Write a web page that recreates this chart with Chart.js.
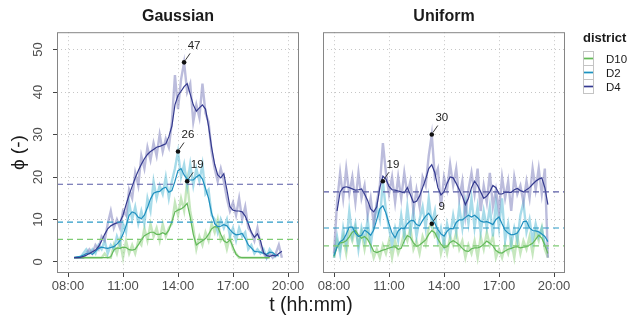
<!DOCTYPE html>
<html>
<head>
<meta charset="utf-8">
<script src="https://cdn.jsdelivr.net/npm/chart.js@4.4.1/dist/chart.umd.min.js"></script>
<style>
  body { margin: 0; background: #fff; font-family: "Liberation Sans", Arial, sans-serif; }
  #wrap { position: relative; width: 628px; height: 320px; overflow: hidden; }
  .panel { position: absolute; top: 0; height: 320px; }
  #gaussBox { left: 0; width: 310px; }
  #uniformBox { left: 310px; width: 318px; }
  #xTitle { position: absolute; left: 0; width: 622px; top: 292px; text-align: center;
            font-size: 19.5px; line-height: 24px; color: #1a1a1a; }
  #legend { position: absolute; left: 583px; top: 30px; color: #1a1a1a; }
  #legend .title { font-weight: bold; font-size: 13px; line-height: 16px; margin-bottom: 6px; }
  #legend .row { display: flex; align-items: center; height: 14px; }
  #legend .key { position: relative; width: 9px; height: 13px; border: 1px solid #c4c4c4; margin-top: -1px; }
  #legend .key span { position: absolute; left: 0; right: 0; }
  #legend .label { font-size: 11.5px; margin-left: 12px; white-space: nowrap; }
</style>
</head>
<body>
<div id="wrap">
  <div class="panel" id="gaussBox"><canvas id="gaussChart"></canvas></div>
  <div class="panel" id="uniformBox"><canvas id="uniformChart"></canvas></div>
  <div id="xTitle">t (hh:mm)</div>
  <div id="legend"><div class="title">district</div></div>
</div>
<script>
// Crowding level per district over the day, two arrival scenarios.
// Raw series are the noisy light traces, smooth series the darker ones.
const districts = ['D10', 'D2', 'D4'];
const xTickLabels = ['08:00', '11:00', '14:00', '17:00', '20:00'];
const yTicks = [0, 10, 20, 30, 40, 50];

const gaussTimes = [
  '08:20', '08:30', '08:40', '08:50',
  '09:00', '09:10', '09:20', '09:30', '09:40', '09:50',
  '10:00', '10:10', '10:20', '10:30', '10:40', '10:50',
  '11:00', '11:10', '11:20', '11:30', '11:40', '11:50',
  '12:00', '12:10', '12:20', '12:30', '12:40', '12:50',
  '13:00', '13:10', '13:20', '13:30', '13:40', '13:50',
  '14:00', '14:10', '14:20', '14:30', '14:40', '14:50',
  '15:00', '15:10', '15:20', '15:30', '15:40', '15:50',
  '16:00', '16:10', '16:20', '16:30', '16:40', '16:50',
  '17:00', '17:10', '17:20', '17:30', '17:40', '17:50',
  '18:00', '18:10', '18:20', '18:30', '18:40', '18:50',
  '19:00', '19:10', '19:20', '19:30', '19:40'
];

const gaussRawD10 = [
  1, 1, 1, 1,
  1, 1, 1, 1, 1, 1,
  2, 1, 1, 4, 2, 5,
  1, 5, 2, 4, 2, 5,
  4, 8, 5, 9, 6, 8,
  5, 9, 6, 8, 9, 14,
  11, 15, 12, 19, 12, 8,
  3, 6, 4, 7, 5, 9,
  7, 10, 5, 6, 3, 6,
  3, 2, 1, 1, 1, 1,
  1, 1, 1, 1, 1, 1,
  1, null, null, null, null
];
const gaussRawD2 = [
  1, 1, 1, 2,
  3, 2, 3, 2, 4, 3,
  5, 2, 4, 3, 6, 4,
  9, 7, 14, 10, 13, 9,
  12, 9, 15, 12, 19, 15,
  18, 16, 20, 15, 19, 22,
  26, 20, 23, 18, 23, 18,
  22, 19, 23, 16, 17, 11,
  10, 7, 10, 8, 10, 6,
  8, 5, 8, 6, 7, 3,
  4, 2, 3, 2, 3, 1,
  3, 2, 1, null, null
];
const gaussRawD4 = [
  1, 1, 1, 1,
  2, 3, 2, 4, 3, 6,
  5, 9, 12, 8, 10, 8,
  12, 11, 17, 15, 21, 18,
  25, 22, 27, 24, 28, 25,
  30, 26, 29, 27, 33, 44,
  36, 43, 47, 40, 42, 33,
  37, 34, 42, 35, 33, 26,
  22, 19, 22, 19, 15, 12,
  14, 11, 15, 10, 13, 8,
  7, 5, 8, 4, 2, 1,
  2, 1, 2, 4, 1
];

const gaussSmoothD10 = [
  1.0, 1.0, 1.0, 1.0,
  1.0, 1.0, 1.0, 1.0, 1.0, 1.0,
  1.0, 1.0, 1.2, 2.8, 3.3, 3.2,
  3.5, 3.4, 2.9, 2.8, 3.0, 4.0,
  5.2, 6.2, 6.6, 7.0, 7.0, 6.5,
  6.5, 6.9, 6.5, 7.5, 9.5, 11.8,
  12.2, 12.5, 13.0, 13.8, 10.5, 6.5,
  4.0, 4.5, 5.0, 5.5, 6.5, 7.8,
  8.3, 8.2, 6.5, 5.0, 4.5, 5.2,
  3.5, 1.8, 1.2, 1.0, 1.0, 1.0,
  1.0, 1.0, 1.0, 1.0, 1.0, 1.0,
  1.0, null, null, null, null
];
const gaussSmoothD2 = [
  1.0, 1.2, 1.3, 1.6,
  2.0, 2.1, 1.8, 2.5, 3.2, 3.5,
  3.3, 3.2, 3.4, 3.6, 4.2, 5.0,
  6.5, 8.5, 11.0, 11.8, 11.5, 10.5,
  10.2, 11.0, 12.8, 14.8, 16.2, 16.5,
  16.6, 17.3, 17.6, 16.4, 16.8, 19.0,
  21.5, 22.0, 20.5, 19.5, 19.3, 19.3,
  20.0, 20.5, 19.5, 17.3, 15.0, 11.5,
  9.0, 8.3, 8.4, 8.8, 8.5, 7.6,
  6.8, 6.4, 6.5, 6.7, 5.5, 4.0,
  3.3, 2.5, 2.4, 2.3, 2.0, 1.8,
  2.3, 2.2, 1.6, 1.4, null
];
const gaussSmoothD4 = [
  1.0, 1.0, 1.1, 1.3,
  1.6, 2.0, 2.4, 2.8, 3.6, 5.0,
  6.5, 7.8, 8.5, 8.9, 9.2, 9.4,
  11.0, 13.5, 15.8, 17.8, 19.8, 21.5,
  23.0, 24.3, 25.3, 26.0, 26.5, 27.0,
  27.2, 27.5, 27.8, 29.5, 32.0, 37.0,
  39.2, 40.2, 41.3, 42.0, 39.5, 37.0,
  35.5, 36.3, 37.0, 36.0, 32.0, 27.0,
  23.0, 20.5, 19.8, 20.8, 17.0, 13.0,
  12.2, 12.0, 12.0, 11.8, 10.8, 9.0,
  7.0, 5.8, 6.6, 5.0, 2.2, 1.5,
  1.3, 1.6, 1.4, 2.0, 2.5
];

const uniformTimes = [
  '08:00', '08:10', '08:20', '08:30', '08:40', '08:50',
  '09:00', '09:10', '09:20', '09:30', '09:40', '09:50',
  '10:00', '10:10', '10:20', '10:30', '10:40', '10:50',
  '11:00', '11:10', '11:20', '11:30', '11:40', '11:50',
  '12:00', '12:10', '12:20', '12:30', '12:40', '12:50',
  '13:00', '13:10', '13:20', '13:30', '13:40', '13:50',
  '14:00', '14:10', '14:20', '14:30', '14:40', '14:50',
  '15:00', '15:10', '15:20', '15:30', '15:40', '15:50',
  '16:00', '16:10', '16:20', '16:30', '16:40', '16:50',
  '17:00', '17:10', '17:20', '17:30', '17:40', '17:50',
  '18:00', '18:10', '18:20', '18:30', '18:40', '18:50',
  '19:00', '19:10', '19:20', '19:30', '19:40'
];

const uniformRawD10 = [
  1, 5, 3, 6, 2, 7,
  5, 8, 4, 7, 3, 7,
  4, 1, 3, 1, 4, 2,
  5, 1, 5, 2, 4, 7,
  5, 8, 3, 5, 2, 6,
  4, 8, 9, 6, 7, 2,
  5, 2, 6, 4, 7, 3,
  5, 1, 4, 2, 5, 1,
  6, 3, 7, 4, 6, 1,
  3, 1, 4, 2, 5, 1,
  6, 2, 5, 3, 6, 2,
  7, 5, 8, 3, 1
];
const uniformRawD2 = [
  1, 6, 2, 8, 4, 12,
  6, 9, 3, 8, 5, 10,
  4, 9, 13, 10, 19, 12,
  8, 4, 8, 5, 11, 6,
  13, 7, 12, 6, 10, 13,
  8, 15, 9, 12, 5, 8,
  4, 9, 6, 11, 7, 13,
  8, 14, 9, 15, 8, 13,
  7, 12, 8, 13, 6, 14,
  8, 15, 5, 9, 4, 8,
  5, 11, 14, 7, 10, 5,
  9, 6, 8, 4, 3
];
const uniformRawD4 = [
  2, 14, 21, 15, 22, 16,
  20, 14, 21, 15, 18, 11,
  15, 9, 14, 18, 28, 21,
  16, 20, 14, 20, 15, 21,
  16, 19, 12, 17, 13, 20,
  18, 25, 30, 20, 22, 13,
  20, 17, 23, 18, 22, 15,
  19, 11, 17, 21, 16, 22,
  12, 18, 14, 21, 13, 17,
  12, 20, 15, 19, 12, 20,
  16, 18, 14, 19, 15, 22,
  17, 22, 16, 22, 1
];

const uniformSmoothD10 = [
  1.3, 3.5, 4.5, 4.6, 5.0, 5.9,
  7.0, 7.4, 6.4, 5.6, 6.0, 5.3,
  4.0, 2.5, 2.2, 2.5, 2.8, 3.0,
  3.3, 3.5, 3.6, 3.0, 3.2, 5.0,
  6.2, 5.8, 4.5, 3.7, 4.0, 4.6,
  5.2, 6.5, 7.4, 6.9, 5.4, 4.2,
  3.4, 3.6, 4.6, 5.0, 4.6, 4.0,
  3.2, 2.6, 2.5, 3.1, 3.3, 3.3,
  3.6, 4.2, 4.9, 4.4, 3.8, 2.7,
  2.2, 2.1, 2.6, 3.0, 3.2, 3.5,
  3.6, 3.3, 3.5, 3.6, 4.0, 4.4,
  5.3, 6.3, 5.6, 4.0, 2.0
];
const uniformSmoothD2 = [
  1.5, 3.5, 4.8, 5.2, 6.5, 8.2,
  8.2, 6.8, 6.0, 6.3, 7.5, 7.0,
  6.3, 7.5, 10.0, 12.5, 13.2, 11.5,
  9.0, 6.8, 5.7, 7.3, 8.0, 7.8,
  9.0, 9.7, 9.8, 8.8, 8.5, 9.8,
  10.8, 11.5, 10.3, 9.1, 7.6, 6.6,
  6.1, 7.2, 7.9, 7.8, 9.3, 9.9,
  9.9, 10.5, 11.0, 10.6, 11.0, 10.4,
  9.6, 9.4, 9.5, 9.2, 8.8, 10.0,
  10.6, 9.0, 7.5, 6.8, 6.4, 6.5,
  6.8, 8.0, 9.5, 9.6, 8.0, 7.4,
  7.3, 7.1, 6.6, 6.0, 4.8
];
const uniformSmoothD4 = [
  null, 12.0, 16.5, 17.5, 17.7, 17.5,
  17.2, 16.9, 17.0, 17.2, 16.0, 14.5,
  12.5, 11.8, 13.0, 17.5, 20.2, 19.5,
  17.8, 17.0, 16.9, 16.7, 16.5, 16.3,
  17.5, 15.8, 14.0, 14.3, 15.5, 17.5,
  19.5, 22.0, 22.9, 21.0, 17.5, 15.8,
  16.5, 18.5, 20.0, 19.8, 18.5, 17.0,
  15.5, 13.5, 15.0, 17.5, 19.0, 18.0,
  16.5, 15.0, 15.5, 16.5, 18.0, 17.5,
  16.0, 16.0, 16.4, 16.4, 16.4, 17.0,
  17.3, 16.8, 16.5, 17.0, 17.5, 18.3,
  19.0, 19.5, 19.8, 17.5, 13.5
];

// daily mean per district, order as in `districts`
const gaussMeans = [5.3, 9.4, 18.3];
const uniformMeans = [3.8, 8.0, 16.5];

// styles
const smoothColors = ['#63b95a', '#1f8fbf', '#343a8f'];
const rawColors = ['rgba(150, 212, 135, 0.55)', 'rgba(95, 190, 215, 0.55)', 'rgba(120, 122, 185, 0.5)'];
const meanColors = ['#7fcc74', '#2a9ac6', '#5a5ca6'];
const fontFamily = '"Liberation Sans", Arial, sans-serif';
const X_MIN = -36, X_MAX = 756, Y_MIN = -2.6, Y_MAX = 54.1;

function toMin(hhmm) {
  const [h, m] = hhmm.split(':').map(Number);
  return (h - 8) * 60 + m;
}

function points(times, values) {
  return times.map((t, i) => ({ x: toMin(t), y: values[i] }));
}

function peakOf(times, values) {
  let best = 0;
  values.forEach((v, i) => { if (v !== null && v > values[best]) best = i; });
  return { x: toMin(times[best]), y: values[best] };
}

// leader line + value label next to each peak marker
const peakLabels = {
  id: 'peakLabels',
  afterDatasetsDraw(chart) {
    const { ctx, scales } = chart;
    const ds = chart.data.datasets.find(d => d.isPeaks);
    if (!ds) return;
    ctx.save();
    ctx.strokeStyle = '#222';
    ctx.lineWidth = 0.9;
    ctx.fillStyle = '#222';
    ctx.font = '11.5px ' + fontFamily;
    ctx.textAlign = 'center';
    ctx.textBaseline = 'middle';
    ds.data.forEach(p => {
      const px = scales.x.getPixelForValue(p.x);
      const py = scales.y.getPixelForValue(p.y);
      ctx.beginPath();
      ctx.moveTo(px + 1.5, py - 2.5);
      ctx.lineTo(px + 6, py - 9);
      ctx.stroke();
      ctx.fillText(String(p.y), px + 10, py - 16.5);
    });
    ctx.restore();
  }
};

const panelBorder = {
  id: 'panelBorder',
  afterDraw(chart) {
    const { ctx, chartArea: a } = chart;
    ctx.save();
    ctx.strokeStyle = '#858585';
    ctx.lineWidth = 1;
    ctx.strokeRect(a.left + 0.5, a.top + 0.5, a.right - a.left - 1, a.bottom - a.top - 1);
    ctx.restore();
  }
};

function makePanel(canvasId, title, times, raws, smooths, means, isLeft) {
  const datasets = [];
  raws.forEach((r, i) => datasets.push({
    data: points(times, r), borderColor: rawColors[i], borderWidth: 2.4,
    pointRadius: 0, order: 3 - i * 0.1
  }));
  smooths.forEach((s, i) => datasets.push({
    data: points(times, s), borderColor: smoothColors[i], borderWidth: 1.2,
    pointRadius: 0, order: 2 - i * 0.1
  }));
  means.forEach((m, i) => datasets.push({
    data: [{ x: X_MIN, y: m }, { x: X_MAX, y: m }], borderColor: meanColors[i],
    borderWidth: 1.2, borderDash: [6, 4], pointRadius: 0, order: 1
  }));
  datasets.push({
    isPeaks: true, showLine: false, data: raws.map(r => peakOf(times, r)),
    pointRadius: 2.3, pointBackgroundColor: '#111', pointBorderWidth: 0, order: 0
  });

  return new Chart(document.getElementById(canvasId), {
    type: 'line',
    data: { datasets },
    options: {
      animation: false,
      responsive: true,
      maintainAspectRatio: false,
      layout: { padding: { left: 0, top: 0, bottom: 0, right: isLeft ? 11 : 63 } },
      plugins: {
        legend: { display: false },
        tooltip: { enabled: false },
        title: {
          display: true, text: title, fullSize: false, color: '#1a1a1a',
          font: { family: fontFamily, size: 16, weight: 'bold' },
          padding: { top: 7, bottom: 6 }
        }
      },
      scales: {
        x: {
          type: 'linear', min: X_MIN, max: X_MAX,
          afterBuildTicks: s => { s.ticks = xTickLabels.map(l => ({ value: toMin(l) })); },
          afterFit: s => { s.height = 47; },
          ticks: {
            autoSkip: false, maxRotation: 0, padding: 2, color: '#4d4d4d',
            font: { family: fontFamily, size: 13 },
            callback: v => xTickLabels.find(l => toMin(l) === v)
          },
          grid: { color: '#c6c6c6', lineWidth: 1, tickLength: 4, tickColor: '#444', tickWidth: 1, tickBorderDash: [] },
          border: { display: false, dash: [1, 3] }
        },
        y: {
          type: 'linear', min: Y_MIN, max: Y_MAX,
          afterBuildTicks: s => { s.ticks = yTicks.map(v => ({ value: v })); },
          afterFit: s => { s.width = isLeft ? 57 : 13; },
          ticks: {
            display: isLeft, minRotation: 90, maxRotation: 90, crossAlign: 'center', padding: 7,
            color: '#4d4d4d', font: { family: fontFamily, size: 13 }
          },
          grid: { color: '#c6c6c6', lineWidth: 1, drawTicks: isLeft, tickLength: 4, tickColor: '#444', tickWidth: 1, tickBorderDash: [] },
          border: { display: false, dash: [1, 3] },
          title: {
            display: isLeft, text: 'ϕ (-)', color: '#1a1a1a',
            font: { family: fontFamily, size: 19 }, padding: { top: 7, bottom: 0 }
          }
        }
      }
    },
    plugins: [peakLabels, panelBorder]
  });
}

makePanel('gaussChart', 'Gaussian', gaussTimes,
  [gaussRawD10, gaussRawD2, gaussRawD4],
  [gaussSmoothD10, gaussSmoothD2, gaussSmoothD4], gaussMeans, true);
makePanel('uniformChart', 'Uniform', uniformTimes,
  [uniformRawD10, uniformRawD2, uniformRawD4],
  [uniformSmoothD10, uniformSmoothD2, uniformSmoothD4], uniformMeans, false);

// legend keys in the ggplot style: box with the raw and smooth line drawn inside
const legend = document.getElementById('legend');
districts.forEach((d, i) => {
  const row = document.createElement('div');
  row.className = 'row';
  row.innerHTML = '<div class="key">' +
    '<span style="top:5px;height:3px;background:' + rawColors[i] + '"></span>' +
    '<span style="top:6px;height:1px;background:' + smoothColors[i] + '"></span>' +
    '</div><div class="label">' + d + '</div>';
  legend.appendChild(row);
});
</script>
</body>
</html>
